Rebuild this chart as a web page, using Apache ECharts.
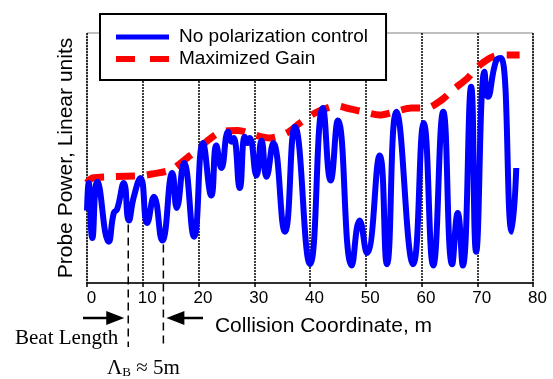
<!DOCTYPE html>
<html>
<head>
<meta charset="utf-8">
<script src="https://cdn.jsdelivr.net/npm/echarts@6/dist/echarts.min.js"></script>
<style>
  html, body { margin: 0; padding: 0; background: #fff; }
  #chart { width: 553px; height: 379px; }
</style>
</head>
<body>
<div id="chart"></div>
<script>
// collision coordinate (m), probe power (arbitrary linear units, 0..100)
const noControl = [
  [0, 29], [0.3, 40], [0.95, 18], [1.85, 40.5], [3.9, 16.5], [4.8, 28], [5.4, 29.5],
  [6.6, 40], [7.5, 25], [8.4, 34.5], [9.6, 42], [10.8, 24], [12, 34.5], [13.5, 17],
  [15.3, 44], [16.1, 30], [17.4, 48], [19.2, 18.5], [20.8, 56], [22.3, 35], [23.2, 55],
  [24.1, 46], [25.3, 60.5], [25.9, 56.5], [26.3, 58], [27.4, 38], [28.3, 58.5], [28.8, 56],
  [29.2, 58], [30.4, 43], [31.3, 57], [32.2, 42.5], [33.4, 56], [35.5, 20.5], [37.3, 62.5],
  [40, 7.5], [42.3, 70], [43.7, 41], [45, 65], [47.5, 7], [48.9, 25], [50.2, 12],
  [52.5, 51], [53.8, 7.5], [55.5, 68.5], [58.5, 7.5], [60.4, 64], [62.1, 7], [63.9, 68.5],
  [65.5, 7.5], [66.5, 28], [67.4, 7], [68.9, 78.5], [69.8, 12.5], [71.3, 84.5], [71.9, 74.5],
  [73.4, 89], [74.3, 90], [76.2, 20.5], [77, 46]
];
const maxGain = [
  [0, 40], [1, 42], [4, 42.5], [10, 43], [11.7, 43.6], [15, 45.2], [17.1, 48.5], [18.5, 51],
  [20, 53.5], [21.4, 56.5], [24.1, 60.5], [27.1, 61], [30.1, 59.2], [32.8, 58], [35.8, 60],
  [38.2, 64], [40.9, 68], [43.5, 70.3], [45, 70.8], [46.5, 70], [49.5, 68.5], [52.5, 67.2],
  [55.2, 68.5], [58.2, 70], [60.9, 70], [63.6, 73.2], [65.6, 77.2], [68.3, 82], [70.1, 86.5],
  [72.8, 90.5], [75.5, 91.2], [77.6, 91.2]
];
// beat length markers: x position and the curve value where the dashed line starts
const beatX = [7.4, 13.7];
const beatTop = [25, 17];

const chart = echarts.init(document.getElementById('chart'));
const font = 'Liberation Sans, Arial, sans-serif';
const serif = 'Liberation Serif, Times New Roman, serif';
const noSymbol = { color: 'rgba(0,0,0,0)', borderWidth: 0 };

chart.setOption({
  animation: false,
  grid: {
    left: 87, right: 20, top: 33, bottom: 96,
    show: true, borderColor: '#808080', borderWidth: 1
  },
  legend: {
    orient: 'vertical',
    left: 100, top: 14,
    data: [
      { name: 'No polarization control', itemStyle: noSymbol,
        lineStyle: { color: '#0000ff', width: 5, type: 'solid' } },
      { name: 'Maximized Gain', itemStyle: noSymbol,
        lineStyle: { color: '#ff0000', width: 6, type: [19, 15] } }
    ],
    backgroundColor: '#fff',
    borderColor: '#000', borderWidth: 2, borderRadius: 0,
    padding: [12, 18, 10, 13],
    itemGap: 0, itemWidth: 53, itemHeight: 14,
    textStyle: { fontSize: 19, lineHeight: 22, fontFamily: font, color: '#000', padding: [0, 0, 0, 5] }
  },
  xAxis: {
    type: 'value', min: 0, max: 80, interval: 10,
    name: 'Collision Coordinate, m', nameLocation: 'middle', nameGap: 33,
    nameTextStyle: { fontSize: 21, fontFamily: font, color: '#000', padding: [0, 0, 0, 27] },
    axisLine: { lineStyle: { color: '#000', width: 1.5 } },
    axisTick: { show: true, length: 4, lineStyle: { color: '#000', width: 1.5 } },
    axisLabel: { fontSize: 17, fontFamily: font, color: '#000', margin: 7, padding: [0, 0, 0, 9] },
    splitLine: { show: true, lineStyle: { color: '#000', width: 1.5, type: [2, 1] } }
  },
  yAxis: {
    type: 'value', min: 0, max: 100,
    name: 'Probe Power, Linear units', nameLocation: 'middle', nameGap: 10,
    nameTextStyle: { fontSize: 21, fontFamily: font, color: '#000' },
    axisLine: { show: false }, axisTick: { show: false },
    axisLabel: { show: false }, splitLine: { show: false }
  },
  series: [
    {
      name: 'Maximized Gain', type: 'line', data: maxGain,
      symbol: 'none', smooth: 0.3,
      lineStyle: { color: '#ff0000', width: 7, type: [19, 12] },
      itemStyle: { color: '#ff0000' }
    },
    {
      name: 'No polarization control', type: 'line', data: noControl,
      symbol: 'none', smooth: 0.5,
      lineStyle: { color: '#0000ff', width: 6 },
      itemStyle: { color: '#0000ff' }
    }
  ]
});

const graphic = [];
beatX.forEach((bx, i) => {
  const p = chart.convertToPixel({ xAxisIndex: 0, yAxisIndex: 0 }, [bx, beatTop[i]]);
  graphic.push({
    type: 'line', z: 10,
    shape: { x1: p[0], y1: p[1] + 4, x2: p[0], y2: 347 },
    style: { stroke: '#000', lineWidth: 1.5, lineDash: [8, 5] }
  });
});
const pL = chart.convertToPixel({ xAxisIndex: 0 }, beatX[0]);
const pR = chart.convertToPixel({ xAxisIndex: 0 }, beatX[1]);
const ay = 318;
graphic.push(
  { type: 'line', shape: { x1: 83, y1: ay, x2: pL - 18, y2: ay }, style: { stroke: '#000', lineWidth: 2.5 } },
  { type: 'polygon', shape: { points: [[pL - 4, ay], [pL - 22, ay - 7], [pL - 22, ay + 7]] }, style: { fill: '#000' } },
  { type: 'line', shape: { x1: pR + 18, y1: ay, x2: 203, y2: ay }, style: { stroke: '#000', lineWidth: 2.5 } },
  { type: 'polygon', shape: { points: [[pR + 3, ay], [pR + 21, ay - 7], [pR + 21, ay + 7]] }, style: { fill: '#000' } },
  { type: 'text', left: 15, top: 328, style: { text: 'Beat Length', font: '21px ' + serif, fill: '#000' } },
  {
    type: 'text', left: 107, top: 358,
    style: {
      text: '{a|Λ}{s|B}{a| ≈ 5m}',
      rich: {
        a: { font: '21px ' + serif, fill: '#000' },
        s: { font: '13px ' + serif, fill: '#000', verticalAlign: 'bottom', padding: [9, 0, 0, 0] }
      }
    }
  }
);
chart.setOption({ graphic: graphic });
</script>
</body>
</html>
